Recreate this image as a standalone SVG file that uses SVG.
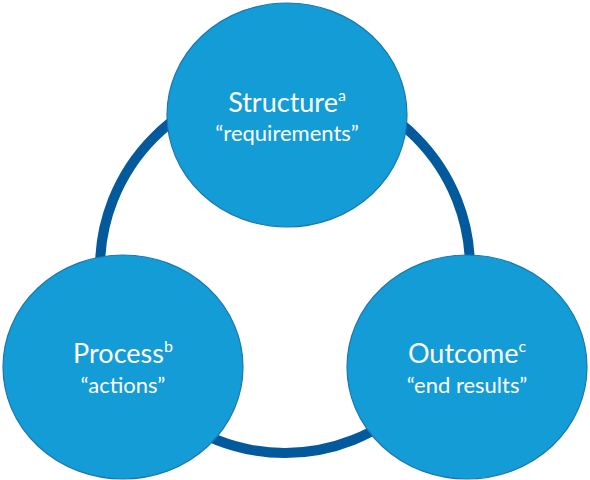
<svg xmlns="http://www.w3.org/2000/svg" width="590" height="480" viewBox="0 0 590 480">
<style>
.node{fill:#149cd7;stroke:#1a78ad;stroke-width:1.2}
.t1{font-family:Lato,"Liberation Sans",sans-serif;font-size:27px;fill:#ffffff;text-anchor:middle}
.t2{font-family:Lato,"Liberation Sans",sans-serif;font-size:22px;fill:#ffffff;text-anchor:middle}
.sup{font-size:16px}
.ring{fill:none;stroke:#02599c;stroke-width:10}
</style>
<rect width="590" height="480" fill="#ffffff"/>
<g id="connectors">
<circle class="ring" cx="285" cy="268" r="185"/>
</g>
<g id="structure">
<ellipse class="node" cx="287" cy="115" rx="120" ry="112"/>
<text class="t1" x="287" y="112">Structure<tspan class="sup" dy="-11">a</tspan></text>
<text class="t2" x="287" y="141">“requirements”</text>
</g>
<g id="process">
<ellipse class="node" cx="123" cy="367" rx="120" ry="112"/>
<text class="t1" x="123" y="363">Process<tspan class="sup" dy="-11">b</tspan></text>
<text class="t2" x="123" y="393">“actions”</text>
</g>
<g id="outcome">
<ellipse class="node" cx="467" cy="367" rx="120" ry="112"/>
<text class="t1" x="467" y="363">Outcome<tspan class="sup" dy="-11">c</tspan></text>
<text class="t2" x="467" y="393">“end results”</text>
</g>
</svg>
